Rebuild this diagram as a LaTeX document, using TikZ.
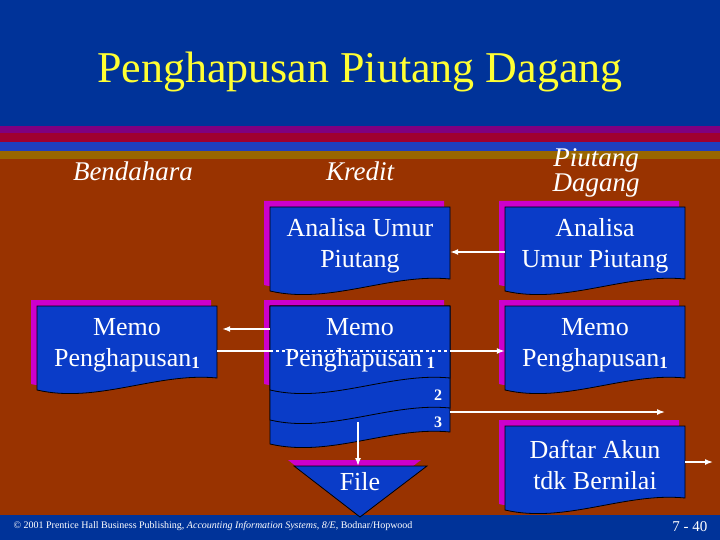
\documentclass[tikz,border=0pt]{standalone}
\usepackage{fontspec}
\setmainfont{Liberation Serif}
\usetikzlibrary{arrows.meta}

\definecolor{topblue}{HTML}{003399}
\definecolor{bandpurple}{HTML}{800080}
\definecolor{bandred}{HTML}{A00030}
\definecolor{bandblue}{HTML}{1F3FBF}
\definecolor{bandochre}{HTML}{996600}
\definecolor{brownbg}{HTML}{993300}
\definecolor{docblue}{HTML}{0A3CC8}
\definecolor{docmagenta}{HTML}{CC00CC}
\definecolor{titleyellow}{HTML}{FFFF33}

% document outline with wavy bottom, #1 = extra depth
\newcommand{\docpath}[1]{(-90,-36) -- (90,-36) -- (90,{36+#1})
  .. controls (30,{30+#1}) and (-30,{62+#1}) .. (-90,{48+#1}) -- cycle}
\newcommand{\memonum}{\raisebox{-2pt}{\fontsize{17}{17}\selectfont\bfseries 1}}

\begin{document}
\begin{tikzpicture}[x=1pt,y=-1pt,
    docshadow/.style={fill=docmagenta},
    docbody/.style={fill=docblue,draw=black,line width=0.8pt},
    doctext/.style={text=white,align=center,inner sep=2pt,
      minimum width=180pt,minimum height=72pt,font=\fontsize{26}{31}\selectfont},
    header/.style={text=white,align=center,font=\fontsize{27}{25}\selectfont\itshape},
    stacknum/.style={text=white,font=\fontsize{16}{16}\selectfont\bfseries},
    flow/.style={draw=white,line width=1.5pt,-{Latex[length=8pt,width=6pt]}},
    link/.style={draw=white,line width=1.5pt}]
    \useasboundingbox (0,0) rectangle (720,540);

    % Draw Background Bands
    \fill[topblue] (0,0) rectangle (720,126);
    \fill[bandpurple] (0,126) rectangle (720,133);
    \fill[bandred] (0,133) rectangle (720,142);
    \fill[bandblue] (0,142) rectangle (720,151);
    \fill[bandochre] (0,151) rectangle (720,159);
    \fill[brownbg] (0,159) rectangle (720,515);
    \fill[topblue] (0,515) rectangle (720,540);

    % Title
    \node[text=titleyellow,font=\fontsize{44}{44}\selectfont] (title) at (360,72) {Penghapusan Piutang Dagang};

    % Column Headers
    \node[header] (hbend) at (133,171) {Bendahara};
    \node[header] (hkred) at (360,171) {Kredit};
    \node[header] (hpiut) at (596,173) {Piutang\\Dagang};

    % Documents
    % -- kredit: analisa
    \begin{scope}[shift={(360,243)}]
        \fill[docshadow,shift={(-6,-6)}] \docpath{0};
        \filldraw[docbody] \docpath{0};
        \node[doctext] (kana) at (0,3) {Analisa Umur\\Piutang};
    \end{scope}
    % -- piutang: analisa
    \begin{scope}[shift={(595,243)}]
        \fill[docshadow,shift={(-6,-6)}] \docpath{0};
        \filldraw[docbody] \docpath{0};
        \node[doctext] (pana) at (0,3) {Analisa\\Umur Piutang};
    \end{scope}
    % -- bendahara: memo
    \begin{scope}[shift={(127,342)}]
        \fill[docshadow,shift={(-6,-6)}] \docpath{0};
        \filldraw[docbody] \docpath{0};
        \node[doctext] (bmemo) at (0,3) {Memo\\Penghapusan\memonum};
    \end{scope}
    % -- kredit: memo stack of three
    \begin{scope}[shift={(360,342)}]
        \fill[docshadow,shift={(-6,-6)}] \docpath{0};
        \filldraw[docbody] \docpath{54};
        \filldraw[docbody] \docpath{30};
        \filldraw[docbody] \docpath{0};
        \node[doctext] (kmemo) at (0,3) {Memo\\Penghapusan\,\memonum};
        \node[stacknum] (n2) at (78,53) {2};
        \node[stacknum] (n3) at (78,80) {3};
    \end{scope}
    % -- piutang: memo
    \begin{scope}[shift={(595,342)}]
        \fill[docshadow,shift={(-6,-6)}] \docpath{0};
        \filldraw[docbody] \docpath{0};
        \node[doctext] (pmemo) at (0,3) {Memo\\Penghapusan\memonum};
    \end{scope}
    % -- piutang: daftar
    \begin{scope}[shift={(595,462)}]
        \fill[docshadow,shift={(-6,-6)}] \docpath{0};
        \filldraw[docbody] \docpath{0};
        \node[doctext] (daftar) at (0,3) {Daftar Akun\\tdk Bernilai};
    \end{scope}

    % File Triangle
    \fill[docshadow] (288,460) -- (421,460) -- (354,511) -- cycle;
    \filldraw[docbody] (294,466) -- (427,466) -- (360,517) -- cycle;
    \node[text=white,font=\fontsize{26}{26}\selectfont] (file) at (360,482) {File};
    \coordinate (ftop) at (358,466);

    % Connectors
    \draw[flow] ([yshift=-6pt]pana.west) -- ([yshift=-6pt]kana.east);
    \draw[flow] ([yshift=16pt]kmemo.west) -- ([yshift=16pt,xshift=5pt]bmemo.east);
    \draw[link] ([yshift=-6pt]bmemo.east) -- ([yshift=-6pt]kmemo.west);
    \draw[link,dashed,line width=1.4pt] ([yshift=-6pt]kmemo.west) -- ([yshift=-6pt]kmemo.east);
    \draw[flow] ([yshift=-6pt]kmemo.east) -- ([yshift=-6pt]pmemo.west);
    \coordinate (dend) at (665,412);
    \draw[flow] (kmemo.east |- dend) -- (dend);
    \draw[flow] (ftop |- n3) -- (ftop);
    \coordinate (dout) at (713,462);
    \draw[flow] ([yshift=3pt]daftar.east) -- (dout);

    % Footer
    \node[text=white,anchor=west,font=\fontsize{10}{10}\selectfont] (credit) at (10,526)
        {\textcopyright{} 2001 Prentice Hall Business Publishing, \textit{Accounting Information Systems, 8/E}, Bodnar/Hopwood};
    \node[text=white,anchor=east,font=\fontsize{15}{15}\selectfont] (page) at (711,527) {7 - 40};
\end{tikzpicture}
\end{document}
